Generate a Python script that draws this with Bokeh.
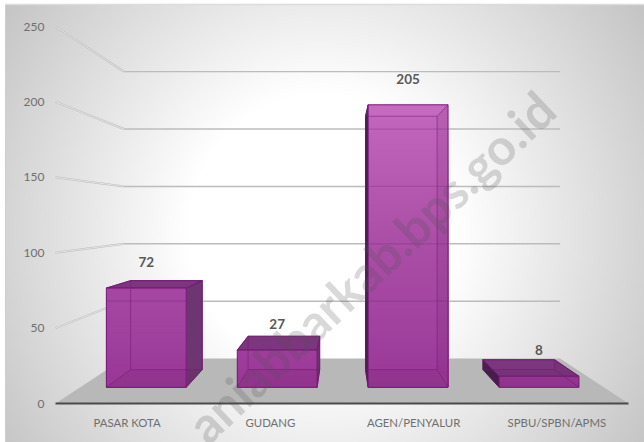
import numpy as np
from bokeh.plotting import figure
from bokeh.models import Range1d, LinearAxis, FixedTicker
from bokeh.core.properties import value
from bokeh.embed import file_html
from bokeh.resources import INLINE

categories = ["PASAR KOTA", "GUDANG", "AGEN/PENYALUR", "SPBU/SPBN/APMS"]
values = [72, 27, 205, 8]
y_ticks = [0, 50, 100, 150, 200, 250]
watermark = "aniabbarkab.bps.go.id"

W, H = 644, 442
X0, PXU = 55.0, 143.25   # pixel of category 0, pixels per category
Y0, PYU = 403.0, 1.508   # pixel of value 0, pixels per value
VX = (341.5 - X0) / PXU  # vanishing point in data units
VV = (Y0 - 215.0) / PYU
K = 0.314                # perspective strength
BAR_L, BAR_R = 0.2, 0.81
Z1, Z2 = 0.3, 0.7


def dx(px):
    return (px - X0) / PXU


def dy(py):
    return (Y0 - py) / PYU


def proj(x, v, z):
    s = 1.0 / (1.0 + K * z)
    return VX + (x - VX) * s, VV + (v - VV) * s


def poly(pts):
    q = [proj(*a) for a in pts]
    return [a[0] for a in q], [a[1] for a in q]


p = figure(width=W, height=H, x_axis_type=None, y_axis_type=None,
           x_range=Range1d(dx(0), dx(W)), y_range=Range1d(dy(H), dy(0)),
           output_backend="svg", toolbar_location=None, min_border=0,
           outline_line_color=None)
p.grid.visible = False
p.styles = {"position": "absolute", "left": "0px", "top": "0px"}

# background: radial grey to white
bx0, by0 = 5, 4
gw, gh = (W - bx0) // 2, (H - by0) // 2
xx, yy = np.meshgrid((np.arange(gw) + .5) / gw * (W - bx0) + bx0,
                     (np.arange(gh) + .5) / gh * (H - by0) + by0)
t = np.sqrt(((xx - 322) / 322) ** 2 + ((yy - 230) / 330) ** 2)
t = np.clip((t - 0.42) / (1.2 - 0.42), 0, 1)
g = (255 - t * 58).astype(np.uint32)
img = (255 << 24) | (g << 16) | (g << 8) | g
p.image_rgba(image=[img[::-1]], x=dx(bx0), y=dy(H), dw=dx(W) - dx(bx0), dh=dy(by0) - dy(H))
p.line([dx(bx0), dx(W)], [dy(by0), dy(by0)], line_color="#dcdcdc", line_width=1.5)
p.line([dx(bx0), dx(bx0)], [dy(by0), dy(H)], line_color="#cfcfcf", line_width=1)

# floor
fx, fy = poly([(0, 0, 0), (4, 0, 0), (4, 0, 1), (0, 0, 1)])
p.patch(fx, fy, fill_color="#b8b8b8", line_color=None)

# walls
for v in y_ticks[1:]:
    xs, ys = poly([(0, v, 0), (0, v, 1)])
    p.line(xs, ys, line_color="#bdbdbd", line_width=2)
    p.line(xs, ys, line_color="#f4f4f4", line_width=0.7)
    xs, ys = poly([(0, v, 1), (4, v, 1)])
    p.line(xs, ys, line_color="#bcbcbc", line_width=1.4)

DARK = "#6e3671"
EDGE = "#741a74"


def ramp(v):
    py = Y0 - PYU * v
    py = 215 + (py - 215) / (1 + K * Z1)
    stops = [104, 230, 340, 387]
    r = np.interp(py, stops, [196, 172, 160, 152])
    gg = np.interp(py, stops, [102, 80, 64, 54])
    b = np.interp(py, stops, [190, 168, 158, 148])
    return "#%02x%02x%02x" % (int(r), int(gg), int(b))


for i, val in enumerate(values):
    l, r = i + BAR_L, i + BAR_R
    # exterior faces
    if r < VX:
        xs, ys = poly([(r, 0, Z1), (r, val, Z1), (r, val, Z2), (r, 0, Z2)])
        p.patch(xs, ys, fill_color=DARK, line_color=EDGE, line_width=1)
    if l > VX:
        xs, ys = poly([(l, 0, Z1), (l, val, Z1), (l, val, Z2), (l, 0, Z2)])
        p.patch(xs, ys, fill_color="#4a1f50", line_color="#4a1f50", line_width=1)
    if val < VV:
        xs, ys = poly([(l, val, Z1), (r, val, Z1), (r, val, Z2), (l, val, Z2)])
        p.patch(xs, ys, fill_color="#7b367d", line_color=EDGE, line_width=1)
    # front face gradient, painted top strip first
    n = max(2, int(val / 4))
    for k in range(n, 0, -1):
        vt = val * k / n
        xs, ys = poly([(l, 0, Z1), (r, 0, Z1), (r, vt, Z1), (l, vt, Z1)])
        p.patch(xs, ys, fill_color=ramp(vt), line_color=None)
    # grid seen through the bar
    for v in y_ticks[1:]:
        by = proj(0, v, 1)[1]
        fy_top = proj(l, val, Z1)[1]
        fy_bot = proj(l, 0, Z1)[1]
        if fy_bot < by < fy_top:
            p.line([proj(l, 0, Z1)[0], proj(r, 0, Z1)[0]], [by, by],
                   line_color="#4a1050", line_alpha=0.18, line_width=1.2)
    # interior faces
    xs, ys = poly([(l, 0, Z1), (r, 0, Z1), (r, 0, Z2), (l, 0, Z2)])
    p.patch(xs, ys, fill_color="#3a0a3a", fill_alpha=0.07, line_color=None)
    if val > VV:
        xs, ys = poly([(l, val, Z1), (r, val, Z1), (r, val, Z2), (l, val, Z2)])
        p.patch(xs, ys, fill_color="#ffffff", fill_alpha=0.05, line_color=None)
    if r > VX:
        xs, ys = poly([(r, 0, Z1), (r, val, Z1), (r, val, Z2), (r, 0, Z2)])
        p.patch(xs, ys, fill_color="#3a0a3a", fill_alpha=0.07, line_color=None)
    # back edges
    xs, ys = poly([(l, 0, Z2), (r, 0, Z2), (r, val, Z2), (l, val, Z2), (l, 0, Z2)])
    p.line(xs, ys, line_color=EDGE, line_alpha=0.55, line_width=1)
    for c in [(l, 0), (r, 0), (r, val), (l, val)]:
        xs, ys = poly([(c[0], c[1], Z1), (c[0], c[1], Z2)])
        p.line(xs, ys, line_color=EDGE, line_alpha=0.55, line_width=1)
    # front outline
    xs, ys = poly([(l, 0, Z1), (r, 0, Z1), (r, val, Z1), (l, val, Z1), (l, 0, Z1)])
    p.line(xs, ys, line_color=EDGE, line_width=1)

# data labels
cx, cy = zip(*[proj(i + (BAR_L + BAR_R) / 2, v, Z1) for i, v in enumerate(values)])
p.text(list(cx), list(cy), text=[str(v) for v in values], y_offset=-26,
       text_font=value("Lato"), text_font_style="bold", text_font_size="13.5px",
       text_color="#595959", text_align="center", text_baseline="middle")

# axes
ya = LinearAxis(fixed_location=0, ticker=FixedTicker(ticks=y_ticks))
ya.axis_line_color = None
ya.major_tick_line_color = None
ya.minor_tick_line_color = None
ya.major_tick_out = 0
ya.major_label_standoff = 11
ya.major_label_text_font = "Lato"
ya.major_label_text_font_size = "12px"
ya.major_label_text_color = "#6f6f6f"
p.add_layout(ya, "left")

xa = LinearAxis(fixed_location=0, ticker=FixedTicker(ticks=[i + 0.5 for i in range(4)]),
                major_label_overrides={i + 0.5: c for i, c in enumerate(categories)})
xa.bounds = (0, 4)
xa.axis_line_color = "#4a4a4a"
xa.axis_line_width = 2
xa.major_tick_line_color = None
xa.minor_tick_line_color = None
xa.major_tick_out = 0
xa.major_label_standoff = 12
xa.major_label_text_font = "Lato"
xa.major_label_text_font_size = "11.4px"
xa.major_label_text_color = "#6f6f6f"
p.add_layout(xa, "below")

# watermark
p.text([dx(195)], [dy(432)], text=[watermark], angle=np.deg2rad(43.4),
       text_font=value("Lato"), text_font_style="bold", text_font_size="50px",
       text_color="#505050", text_alpha=0.22, text_align="left", text_baseline="alphabetic")

open("out.html", "w").write(file_html(p, INLINE))
